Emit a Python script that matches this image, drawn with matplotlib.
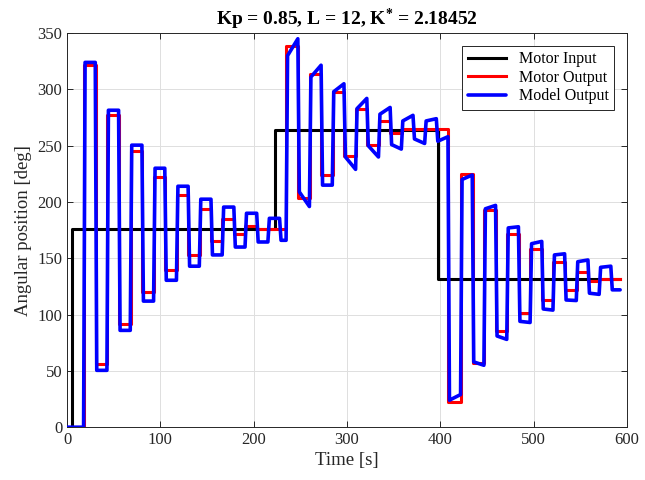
import matplotlib
matplotlib.use("Agg")
import matplotlib.pyplot as plt
import numpy as np

# Motor input (step reference)
input_t = [0, 5.4, 223, 397.5, 593]
input_val = [0, 176, 264, 132, 132]

# switching instants of the relay-like response
switch_t = [18, 30.5, 43, 55.5, 68, 80.5, 93, 105, 117.5, 130,
            142, 154.5, 166.5, 179, 191, 203.5, 215.5, 228, 235, 247.6,
            260, 272.5, 284.5, 297, 309.5, 321.5, 334, 346.5, 358.5, 371,
            383.5, 396, 408.5, 422, 434.5, 447, 459.5, 471.5, 484, 496.5,
            509, 521, 533.5, 546, 558.5, 570.5, 583]
end_t = 593

# Motor output plateau levels (held between switches)
motor_out = [322, 56, 277, 92, 245, 120, 222, 139.5, 206, 153,
             194, 165, 184.5, 171.5, 179, 176, 176, 176, 339, 203.5,
             314, 224, 298, 240.5, 283, 251, 272, 261, 265, 265,
             265, 265, 22, 225, 57, 193, 85, 171.5, 101, 158,
             113, 147, 122, 137.5, 130, 132, 132]

# Model output: level at start and end of each plateau
model_start = [324, 50.5, 281.5, 86, 250.5, 112, 230, 130.5, 214, 143,
               202.5, 153, 195.5, 160, 190, 164.5, 185.5, 166, 330, 209,
               311, 215, 298, 240, 283, 250, 278, 251, 272, 256,
               272, 254, 24, 220, 58, 194, 81, 177, 94, 163,
               105, 153, 113, 147, 119, 142, 122]
model_end = [324, 50.5, 281.5, 86, 250.5, 112, 230, 130.5, 214, 143,
             202.5, 153, 195.5, 160, 190, 164.5, 185.5, 166, 345, 196,
             321.5, 215, 305, 229, 292, 240, 284, 247, 277, 252,
             274, 258, 29, 224, 55, 197, 78, 178, 93, 165,
             104, 154, 112.5, 148.5, 118, 143, 122]


def model_curve(ramp=1.3):
    t = [0, switch_t[0] - 0.3]
    y = [0, 0]
    ends = switch_t[1:] + [end_t]
    for s, e, a, b in zip(switch_t, ends, model_start, model_end):
        t += [s + ramp, e - 0.3]
        y += [a, b]
    return t, y


plt.rcParams['font.family'] = ['Liberation Serif', 'DejaVu Serif']
plt.rcParams['mathtext.fontset'] = 'custom'
plt.rcParams['mathtext.rm'] = 'Liberation Serif:bold'
plt.rcParams['mathtext.it'] = 'Liberation Serif:bold'

fig = plt.figure(figsize=(6.45, 4.8), dpi=100)
ax = fig.add_axes([0.104, 0.110, 0.868, 0.821])

ax.plot(input_t, input_val, color='black', lw=2.2, drawstyle='steps-post',
        label='Motor Input', zorder=3)
ax.plot([0] + switch_t + [end_t], [0] + motor_out + [motor_out[-1]],
        color='red', lw=2.2, drawstyle='steps-post', label='Motor Output', zorder=4)
mt, my = model_curve()
ax.plot(mt, my, color='blue', lw=2.6, label='Model Output', zorder=5,
        solid_joinstyle='round', solid_capstyle='round')

ax.set_xlim(0, 600)
ax.set_ylim(0, 350)
ax.set_xticks(np.arange(0, 601, 100))
ax.set_yticks(np.arange(0, 351, 50))
ax.grid(True, color='#dfdfdf', lw=0.7, zorder=0)
ax.set_axisbelow(True)
ax.tick_params(direction='in', top=True, right=True, length=4, width=0.7,
               labelsize=12, colors='#262626')
for sp in ax.spines.values():
    sp.set_color('#262626')
    sp.set_linewidth(0.7)

ax.set_xlabel('Time [s]', fontsize=13.5, color='#262626', labelpad=3)
ax.set_ylabel('Angular position [deg]', fontsize=13.5, color='#262626', labelpad=4)
ax.set_title(r'Kp = 0.85, L = 12, K$^{*}$ = 2.18452', fontsize=14,
             fontweight='bold', pad=6)

leg = ax.legend(loc='upper right', fontsize=11.5, fancybox=False,
                framealpha=1, edgecolor='#262626', borderaxespad=0.8,
                handlelength=2.4, labelspacing=0.15, borderpad=0.35)
leg.get_frame().set_linewidth(0.7)

fig.savefig('out.png', dpi=100)
